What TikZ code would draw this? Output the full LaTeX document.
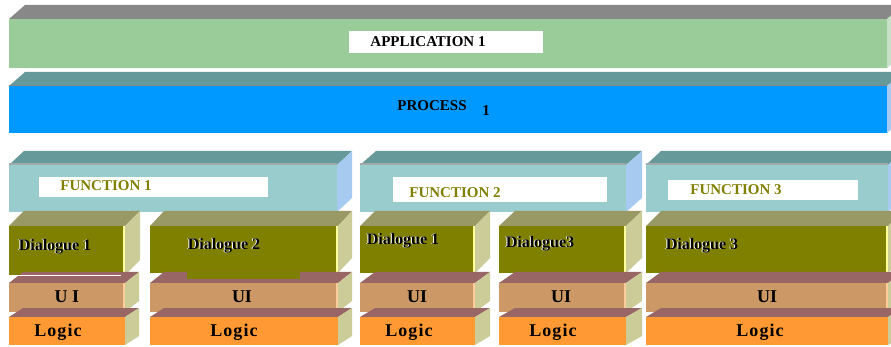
\documentclass[tikz,border=0pt]{standalone}
\usepackage{fontspec}
\setmainfont{Liberation Serif}
\newfontfamily\spacedserif[LetterSpace=6]{Liberation Serif}

% face colours
\definecolor{appTop}{HTML}{888888}
\definecolor{appFront}{HTML}{99CC99}
\definecolor{appSide}{HTML}{C8E0C8}
\definecolor{procTop}{HTML}{669999}
\definecolor{procFront}{HTML}{0099FF}
\definecolor{procSide}{HTML}{A6CAF0}
\definecolor{fnTop}{HTML}{669999}
\definecolor{fnFront}{HTML}{99CCCC}
\definecolor{fnSide}{HTML}{A6CAF0}
\definecolor{fnEdge}{HTML}{A0AAAA}
\definecolor{dlgTop}{HTML}{999966}
\definecolor{dlgFront}{HTML}{808000}
\definecolor{paleSide}{HTML}{CCCC99}
\definecolor{dlgEdge}{HTML}{FFFF99}
\definecolor{uiTop}{HTML}{996666}
\definecolor{uiFront}{HTML}{CC9966}
\definecolor{uiEdge}{HTML}{FFCC99}
\definecolor{logicFront}{HTML}{FF9933}
\definecolor{fnText}{HTML}{808000}

\tikzset{
  face/.style={inner sep=0pt, outer sep=0pt, draw=none},
  app top/.style={fill=appTop}, app front/.style={face, fill=appFront}, app side/.style={fill=appSide},
  proc top/.style={fill=procTop}, proc front/.style={face, fill=procFront}, proc side/.style={fill=procSide},
  fn top/.style={fill=fnTop}, fn front/.style={face, fill=fnFront}, fn side/.style={fill=fnSide},
  dlg top/.style={fill=dlgTop}, dlg front/.style={face, fill=dlgFront}, dlg side/.style={fill=paleSide},
  ui top/.style={fill=uiTop}, ui front/.style={face, fill=uiFront}, ui side/.style={fill=paleSide},
  logic top/.style={fill=uiTop}, logic front/.style={face, fill=logicFront}, logic side/.style={fill=paleSide},
  labelbox/.style={face, fill=white, anchor=north west},
  bigtext/.style={inner sep=0pt, font=\bfseries\fontsize{15}{15}\selectfont, text=black},
  fntext/.style={inner sep=0pt, font=\bfseries\fontsize{15}{15}\selectfont, text=fnText},
  dlgtext/.style={inner sep=0pt, font=\bfseries\fontsize{16}{16}\selectfont, text=black},
  dlgglow/.style={dlgtext, text=white},
  uitext/.style={inner sep=0pt, font=\bfseries\fontsize{18}{18}\selectfont, text=black},
  logictext/.style={inner sep=0pt, font=\spacedserif\bfseries\fontsize{18}{18}\selectfont, text=black},
}

% a slab in oblique view: name, x1, x2, front top, front bottom, depth dx, depth dy, kind
\newcommand\slab[8]{%
  \fill[#8 top] (#2,#4) -- ++(#6,-#7) -- (#3+#6,#4-#7) -- (#3,#4) -- cycle;
  \fill[#8 side] (#3,#4) -- (#3+#6,#4-#7) -- (#3+#6,#5-#7) -- (#3,#5) -- cycle;
  \node[#8 front, anchor=north west, minimum width={(#3-#2)*1pt},
        minimum height={(#5-#4)*1pt}] (#1) at (#2,#4) {};
}
% dialogue caption with a white rim on its left
\newcommand\dlglabel[4]{%
  \node[dlgglow] at (#2-1,#3) {#4};
  \node[dlgtext] (#1) at (#2,#3) {#4};
}

\begin{document}
\begin{tikzpicture}[x=1pt, y=-1pt]
  \useasboundingbox (0,0) rectangle (891,347);
  \fill[white] (0,0) rectangle (891,347);
  \clip (0,0) rectangle (891,347);

  % application and process layers
  \slab{app}{9}{887}{19}{68}{16}{14}{app}
  \node[labelbox, minimum width=194pt, minimum height=22pt] (appbox) at (349,31) {};
  \node[bigtext] (apptext) at (428,41.5) {APPLICATION 1};

  \slab{proc}{9}{887}{86}{133}{16}{14}{proc}
  \draw[appTop, line width=1pt] (9,86) -- (887,86);
  \node[bigtext] (proctext) at (432,106) {PROCESS};
  \node[bigtext] (procnum) at (486,111) {1};

  % function layer
  \slab{f1}{9}{337}{165}{212}{15}{14}{fn}
  \slab{f2}{360}{626}{165}{212}{16}{14}{fn}
  \slab{f3}{646}{888}{165}{212}{15}{14}{fn}
  \foreach \a/\b in {9/337, 360/626, 646/888}
    \draw[fnEdge, line width=2pt] (\a,164.5) -- (\b,164.5);
  \node[labelbox, minimum width=229pt, minimum height=20pt] (f1box) at (39,177) {};
  \node[labelbox, minimum width=214pt, minimum height=25pt] (f2box) at (393,177) {};
  \node[labelbox, minimum width=190pt, minimum height=20pt] (f3box) at (668,180) {};
  \node[fntext] (f1text) at (106,186) {FUNCTION 1};
  \node[fntext] (f2text) at (455,193) {FUNCTION 2};
  \node[fntext] (f3text) at (736,190) {FUNCTION 3};

  % dialogue layer
  \slab{d1}{9}{125}{226}{275}{15}{15}{dlg}
  \slab{d2}{150}{338}{226}{273}{14}{15}{dlg}
  \slab{d3}{360}{475}{226}{273}{15}{15}{dlg}
  \slab{d4}{499}{626}{226}{273}{16}{15}{dlg}
  \slab{d5}{646}{888}{226}{273}{15}{15}{dlg}
  \foreach \b in {125, 338, 475, 626, 888}
    \fill[dlgEdge] (\b-2,226) rectangle (\b,273);

  % UI layer
  \slab{u1}{9}{125}{283}{312}{14}{11}{ui}
  \slab{u2}{150}{338}{283}{312}{14}{11}{ui}
  \slab{u3}{360}{475}{283}{312}{15}{11}{ui}
  \slab{u4}{499}{626}{283}{312}{16}{11}{ui}
  \slab{u5}{646}{888}{283}{312}{15}{11}{ui}
  \foreach \b in {125, 338, 475, 626, 888}
    \fill[uiEdge] (\b-2,283) rectangle (\b,312);
  \draw[white, line width=1pt] (9,275.5) -- (121,275.5);
  \fill[dlgFront] (187,272) rectangle (300,279);

  % logic layer
  \slab{l1}{9}{125}{317}{345}{14}{9}{logic}
  \slab{l2}{150}{338}{317}{345}{14}{9}{logic}
  \slab{l3}{360}{475}{317}{345}{15}{9}{logic}
  \slab{l4}{499}{626}{317}{345}{16}{9}{logic}
  \slab{l5}{646}{888}{317}{345}{15}{9}{logic}

  % captions
  \dlglabel{d1text}{55}{247}{Dialogue 1}
  \dlglabel{d2text}{224}{246}{Dialogue 2}
  \dlglabel{d3text}{403}{241}{Dialogue 1}
  \dlglabel{d4text}{540}{244}{Dialogue3}
  \dlglabel{d5text}{702}{246}{Dialogue 3}

  \node[uitext] (u1text) at (67,297) {U I};
  \foreach \n/\x in {2/242, 3/417, 4/561, 5/767}
    \node[uitext] (u\n text) at (\x,297) {UI};
  \foreach \n/\x in {1/58, 2/234, 3/409, 4/553, 5/760}
    \node[logictext] (l\n text) at (\x,332) {Logic};
\end{tikzpicture}
\end{document}
